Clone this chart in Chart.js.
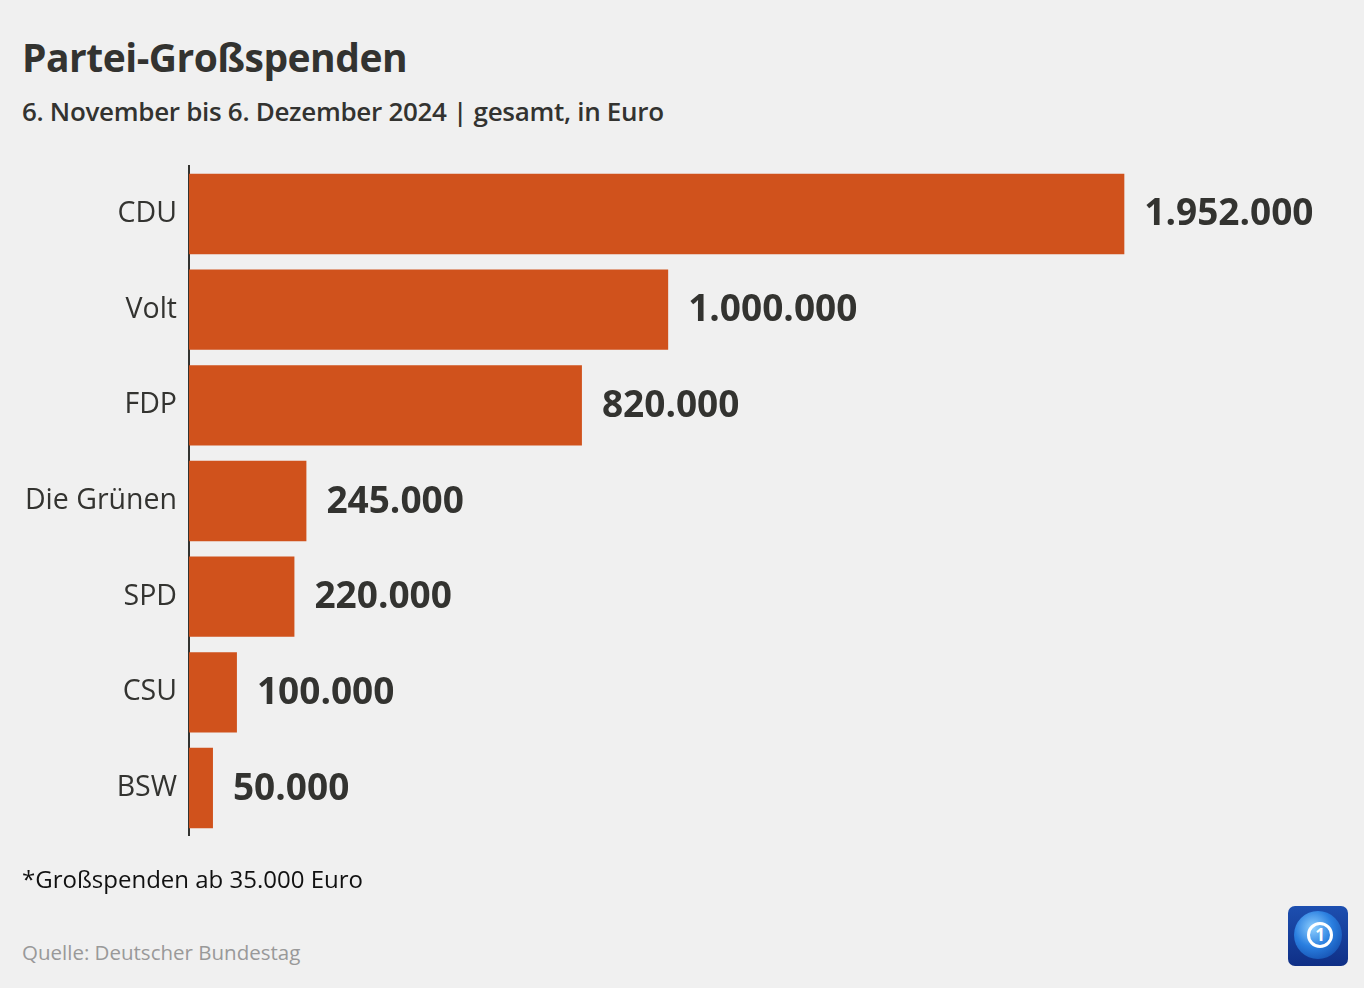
<!DOCTYPE html>
<html>
<head>
<meta charset="utf-8">
<script src="https://cdn.jsdelivr.net/npm/chart.js@4/dist/chart.umd.min.js"></script>
<style>
  body { margin: 0; background: #f0f0f0; font-family: "Open Sans", sans-serif; color: #333330; }
  #wrap { position: relative; width: 1364px; height: 988px; overflow: hidden; }
  h1 { position: absolute; left: 22px; top: 30px; margin: 0; font-size: 39px; font-weight: 700; letter-spacing: -0.5px; }
  h2 { position: absolute; left: 22px; top: 93px; margin: 0; font-size: 26px; font-weight: 600; letter-spacing: -0.3px; }
  #chartBox { position: absolute; left: 0; top: 137px; width: 1364px; height: 728px; }
  .note { position: absolute; left: 22px; top: 862px; font-size: 24px; color: #111; }
  .src { position: absolute; left: 22px; top: 938px; font-size: 20.5px; color: #999; }
  .logo { position: absolute; left: 1288px; top: 906px; width: 60px; height: 60px; border-radius: 7px;
    background: linear-gradient(180deg, #1d4fb0 0%, #0f2f86 100%); }
  .globe { position: absolute; left: 6px; top: 5px; width: 48px; height: 48px; border-radius: 50%;
    background: radial-gradient(circle at 40% 35%, #8fd0ff 0%, #2a7fe0 45%, #0b3a9a 100%); }
  .ring { position: absolute; left: 13px; top: 11px; width: 20px; height: 20px; border: 3px solid #fff; border-radius: 50%;
    color: #fff; font: 700 17px "Open Sans", sans-serif; text-align: center; line-height: 20px; }
</style>
</head>
<body>
<div id="wrap">
  <h1>Partei-Großspenden</h1>
  <h2>6. November bis 6. Dezember 2024 | gesamt, in Euro</h2>
  <div id="chartBox"><canvas id="chartId"></canvas></div>
  <div class="note">*Großspenden ab 35.000 Euro</div>
  <div class="src">Quelle: Deutscher Bundestag</div>
  <div class="logo"><div class="globe"><div class="ring">1</div></div></div>
</div>
<script>
const parties = ["CDU", "Volt", "FDP", "Die Grünen", "SPD", "CSU", "BSW"];
const donations = [1952000, 1000000, 820000, 245000, 220000, 100000, 50000];

function fmt(n) {
  return String(n).replace(/\B(?=(\d{3})+(?!\d))/g, ".");
}

// draws the value next to each bar
const valueLabels = {
  id: "valueLabels",
  afterDatasetsDraw(chart) {
    const c = chart.ctx;
    const meta = chart.getDatasetMeta(0);
    c.save();
    c.font = "700 37px 'Open Sans', sans-serif";
    c.fillStyle = "#333330";
    c.textBaseline = "middle";
    c.textAlign = "left";
    meta.data.forEach((bar, i) => {
      c.fillText(fmt(chart.data.datasets[0].data[i]), bar.x + 20, bar.y + 1);
    });
    c.restore();
  },
};

const ctx = document.getElementById("chartId");
new Chart(ctx, {
  type: "bar",
  data: {
    labels: parties,
    datasets: [
      {
        data: donations,
        backgroundColor: "#d0521c",
        barPercentage: 0.84,
        categoryPercentage: 1,
      },
    ],
  },
  options: {
    indexAxis: "y",
    animation: false,
    responsive: true,
    maintainAspectRatio: false,
    layout: { padding: { top: 0, bottom: 0, left: 0, right: 25 } },
    plugins: { legend: { display: false }, tooltip: { enabled: false } },
    scales: {
      x: { display: false, min: 0, max: 2400000 },
      y: {
        grid: { display: false, drawTicks: false },
        border: { display: true, color: "#333330", width: 2 },
        ticks: { color: "#333330", font: { family: "'Open Sans', sans-serif", size: 28.5 }, padding: 12 },
        afterFit(scale) { scale.width = 189; },
      },
    },
  },
  plugins: [valueLabels],
});
</script>
</body>
</html>
